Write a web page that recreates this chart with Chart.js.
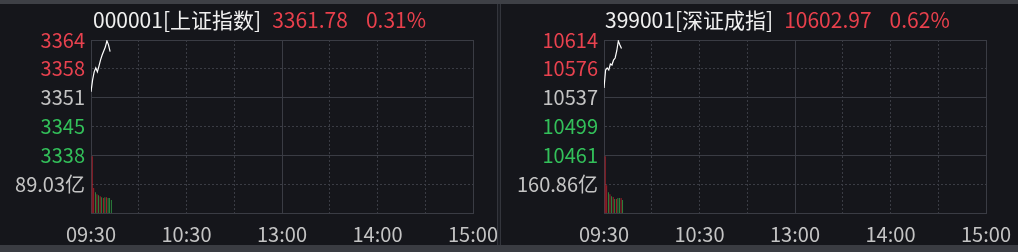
<!DOCTYPE html>
<html><head><meta charset="utf-8">
<script src="https://cdn.jsdelivr.net/npm/chart.js@4"></script>
<style>
html,body{margin:0;padding:0;background:#15161b;width:1018px;height:252px;overflow:hidden;font-family:"Noto Sans CJK SC","Noto Sans",sans-serif}
.topbar{position:absolute;left:0;top:0;width:1018px;height:4px;background:#3e4046}
.botbar{position:absolute;left:0;top:245px;width:1018px;height:7px;background:#3a3c42}
.sep{position:absolute;left:497px;top:4px;width:2px;height:241px;background:#1c1e24;border-left:1px solid #33353c;border-right:1px solid #33353c}
.panel{position:absolute;top:0}
.title{position:absolute;top:9px;font-size:21px;line-height:21px;white-space:nowrap;color:#f0f0f0}
.title .v{color:#e8404c}
</style></head>
<body>
<div class="topbar"></div>
<canvas id="c1" class="panel" width="497" height="247" style="left:0"></canvas>
<canvas id="c2" class="panel" width="518" height="247" style="left:500px"></canvas>
<div class="sep"></div>
<div class="botbar"></div>
<div class="title" style="left:93px">000001[上证指数]<span class="v" style="margin-left:11px">3361.78</span><span class="v" style="margin-left:18px">0.31%</span></div>
<div class="title" style="left:605px">399001[深证成指]<span class="v" style="margin-left:11px">10602.97</span><span class="v" style="margin-left:18px">0.62%</span></div>
<script>
// ---- shared time axis ----
const gridMinutes = [0, 30, 60, 90, 120, 150, 180, 210, 240];
const solidMinutes = [0, 120, 240];
const xTickMinutes = [0, 60, 120, 180, 240];
const xTickLabels = ["09:30", "10:30", "13:00", "14:00", "15:00"];

// ---- 000001 上证指数 ----
const shMinutes = [0, 1, 2, 3, 4, 5, 6, 7, 8, 9, 10, 11, 12];
const shPrice = [3352.7, 3355.4, 3357.2, 3358.1, 3357.2, 3358.5, 3359.9, 3361.0, 3361.9, 3362.8, 3364.2, 3363.3, 3361.78];
const shVolume = [175, 77, 64, 58, 55, 52, 49, 46, 49, 49, 46, 46, 40];
const shVolColor = ["r", "r", "g", "r", "g", "r", "g", "r", "g", "r", "g", "g", "g"];
const shYLabels = ["3364", "3358", "3351", "3345", "3338", "89.03亿", ""];
const shYColors = ["red", "red", "grey", "green", "green", "grey", "grey"];
const shAxisTop = 3364.39;
const shAxisStep = 6.5;
const shVolStep = 89.03;

// ---- 399001 深证成指 ----
const szMinutes = [0, 1, 2, 3, 4, 5, 6, 7, 8, 9, 10, 11];
const szPrice = [10550.5, 10574.4, 10577.1, 10574.4, 10582.4, 10581.1, 10587.7, 10590.4, 10599.7, 10613.0, 10607.7, 10602.97];
const szVolume = [316, 155, 116, 105, 94, 89, 78, 78, 83, 83, 83, 72];
const szVolColor = ["r", "r", "g", "r", "g", "r", "g", "r", "g", "g", "r", "g"];
const szYLabels = ["10614", "10576", "10537", "10499", "10461", "160.86亿", ""];
const szYColors = ["red", "red", "grey", "green", "green", "grey", "grey"];
const szAxisTop = 10614.34;
const szAxisStep = 38.35;
const szVolStep = 160.86;

const FONT = "'Noto Sans CJK SC','Noto Sans',sans-serif";
const COLORS = {red: "#e8424f", green: "#33c05a", grey: "#c4c4c4"};
const BAR = {r: "#e0222e", g: "#37b34c"};
const GRID = "#3a3c44";

function buildPanel(canvas, p) {
  const n = p.yLabels.length;
  const idxOf = v => Math.round((p.axisTop - v) / p.axisStep);
  const yTicks = Array.from({length: n}, (_, i) => p.axisTop - i * p.axisStep).reverse();
  const span = gridMinutes[gridMinutes.length - 1];
  return new Chart(canvas, {
    data: {
      datasets: [
        {
          type: 'line',
          data: p.minutes.map((m, i) => ({x: m, y: p.price[i]})),
          xAxisID: 'x', yAxisID: 'y',
          borderColor: '#ffffff', borderWidth: 1.2,
          pointRadius: 0, tension: 0, order: 0
        },
        {
          type: 'bar',
          data: p.minutes.map((m, i) => ({x: m, y: p.volume[i]})),
          xAxisID: 'xb', yAxisID: 'yv',
          backgroundColor: p.volColor.map(c => BAR[c]),
          barPercentage: 0.9, categoryPercentage: 0.95, order: 1
        }
      ]
    },
    options: {
      responsive: false, animation: false,
      layout: {padding: {top: 40, right: p.padRight, left: 0, bottom: 0}},
      plugins: {legend: {display: false}, tooltip: {enabled: false}, title: {display: false}},
      scales: {
        x: {
          type: 'linear', min: 0, max: span, offset: false,
          afterBuildTicks: s => { s.ticks = gridMinutes.map(v => ({value: v})); },
          afterFit: s => { s.height = 34; s.paddingLeft = 0; s.paddingRight = 0; },
          ticks: {
            autoSkip: false, maxRotation: 0, minRotation: 0, padding: 9,
            color: COLORS.grey, font: {size: 20, family: FONT},
            callback: v => { const k = xTickMinutes.indexOf(v); return k < 0 ? '' : xTickLabels[k]; }
          },
          grid: {color: GRID, drawTicks: false, offset: false, lineWidth: 1},
          border: {display: true, color: GRID, dash: ctx => (ctx.tick && solidMinutes.indexOf(ctx.tick.value) < 0) ? [2, 2] : []}
        },
        xb: {type: 'linear', display: false, min: -0.5, max: span - 0.5, offset: false, grid: {offset: false}},
        y: {
          type: 'linear', position: 'left',
          min: p.axisTop - (n - 1) * p.axisStep, max: p.axisTop,
          afterBuildTicks: s => { s.ticks = yTicks.map(v => ({value: v})); },
          afterFit: s => { s.width = p.yWidth; s.paddingTop = 0; s.paddingBottom = 0; },
          ticks: {
            padding: 6, font: {size: 20, family: FONT},
            color: ctx => COLORS[p.yColors[idxOf(ctx.tick.value)]],
            callback: v => p.yLabels[idxOf(v)]
          },
          grid: {color: GRID, drawTicks: false, lineWidth: 1},
          border: {display: true, color: GRID, dash: ctx => (ctx.tick && idxOf(ctx.tick.value) % 2 === 1) ? [2, 2] : []}
        },
        yv: {type: 'linear', display: false, min: 0, max: (n - 1) * p.volStep}
      }
    }
  });
}

buildPanel(document.getElementById('c1'), {
  minutes: shMinutes, price: shPrice, volume: shVolume, volColor: shVolColor,
  yLabels: shYLabels, yColors: shYColors, axisTop: shAxisTop, axisStep: shAxisStep,
  volStep: shVolStep, yWidth: 91, padRight: 24
});
buildPanel(document.getElementById('c2'), {
  minutes: szMinutes, price: szPrice, volume: szVolume, volColor: szVolColor,
  yLabels: szYLabels, yColors: szYColors, axisTop: szAxisTop, axisStep: szAxisStep,
  volStep: szVolStep, yWidth: 104, padRight: 32
});
</script>
</body></html>
